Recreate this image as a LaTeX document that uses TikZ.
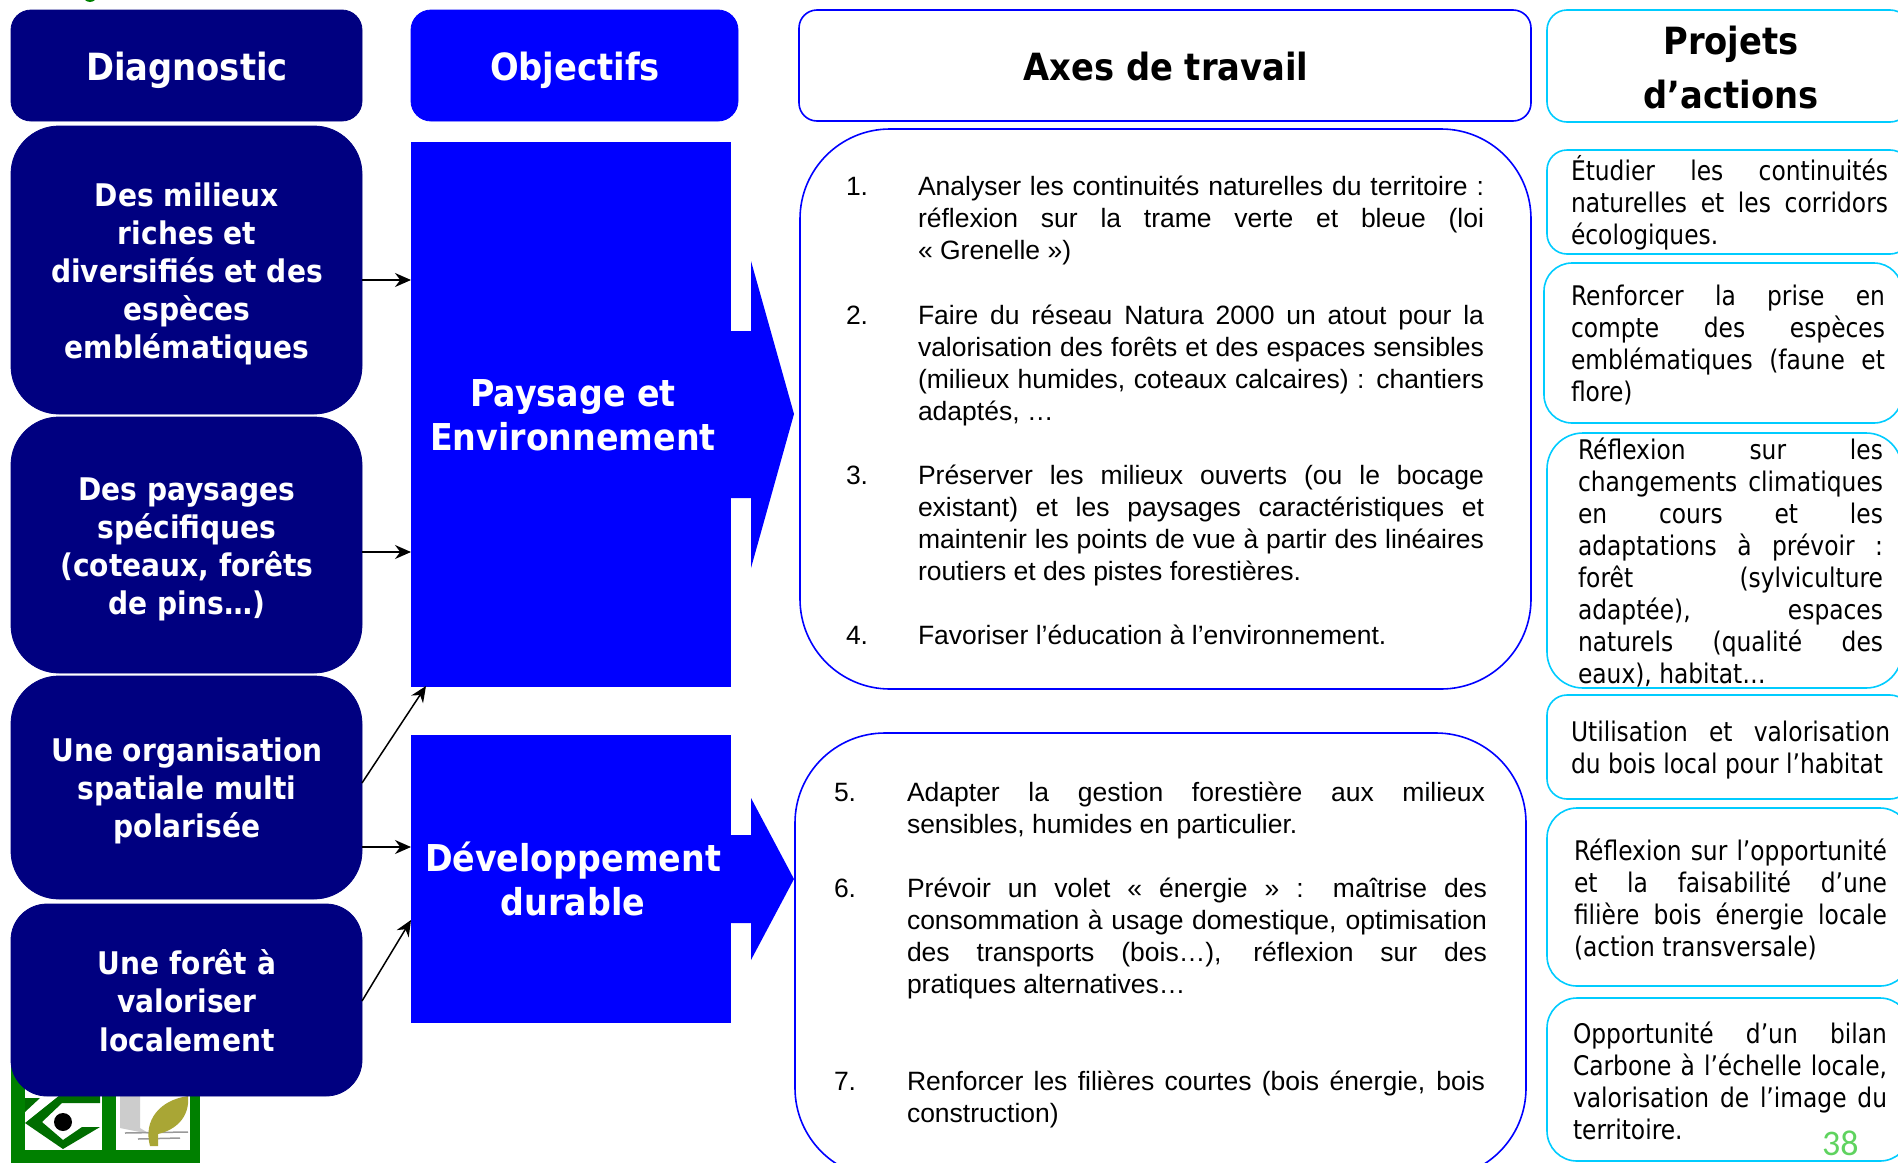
\documentclass[tikz,border=0pt]{standalone}
\usepackage{fontspec}
\usetikzlibrary{arrows.meta}
\setmainfont{Liberation Sans}
\newfontfamily\tah{DejaVu Sans}[FakeStretch=0.865]
\newfontfamily\tahb{DejaVu Sans Bold}[FakeStretch=0.90]
\newfontfamily\calib{Carlito}
\newcommand\Jl[1]{\hbox to\hsize{#1}}
\newcommand\Fl[1]{\hbox{#1}}
\newcommand\Cl[1]{\hbox to\hsize{\hss#1\hss}}
\newcommand\Vb[3]{\vtop{\hsize=#1pt \baselineskip=#2pt \lineskip=0pt \lineskiplimit=-100pt #3}}
\newcommand\Bx[6]{\node[#6,anchor=north west,inner sep=0pt,outer sep=0pt,minimum width={(#4-#2)*1pt},minimum height={(#5-#3)*1pt}] (#1) at (#2,#3) {};}
\definecolor{navyb}{HTML}{000080}
\definecolor{pureb}{HTML}{0000FF}
\definecolor{cyanb}{HTML}{00CCFF}
\definecolor{logog}{HTML}{008000}
\definecolor{leafc}{HTML}{A9A635}
\definecolor{pagenum}{HTML}{5FD35F}
\tikzset{
 navybox/.style={fill=navyb,draw=navyb,line width=0.8pt},
 bluebox/.style={fill=pureb,draw=pureb,line width=0.8pt},
 axisbox/.style={draw=pureb,line width=1.6pt,fill=white},
 projbox/.style={draw=cyanb,line width=1.6pt,fill=white},
 conn/.style={draw=black,line width=1.5pt,-{Stealth[length=16pt,width=14pt]}},
 tl/.style={inner sep=0pt,outer sep=0pt,anchor=base west},
 tc/.style={inner sep=0pt,outer sep=0pt,anchor=base},
 headw/.style={text=white,font=\tahb\fontsize{37.5}{44}\selectfont},
 headk/.style={text=black,font=\tahb\fontsize{37.5}{44}\selectfont},
 diagw/.style={text=white,font=\tahb\fontsize{31.2}{38}\selectfont},
 objw/.style={text=white,font=\tahb\fontsize{37}{44}\selectfont},
 axt/.style={text=black,font=\fontsize{26.5}{32}\selectfont},
 prt/.style={text=black,font=\tah\fontsize{27}{32}\selectfont},
}
\begin{document}
\begin{tikzpicture}[x=1pt,y=-1pt]
\useasboundingbox (0,0) rectangle (1898,1162);
\path[clip] (0,0) rectangle (1898,1162);
\fill[white] (0,0) rectangle (1898,1162);
% page decoration
\fill[logog] (90,-5) circle (7);
\fill[logog] (11,1060) rectangle (200,1170);
\fill[white] (25,1060) rectangle (102,1150);
\fill[white] (116,1060) rectangle (190,1150);
\fill[logog!85!black] (25,1123) -- (60,1095) -- (100,1095) -- (100,1103) -- (62,1103) -- (42,1122) -- (63,1140) -- (82,1127) -- (100,1127) -- (63,1149) -- cycle;
\fill[logog!85!black] (25,1098) -- (40,1098) -- (25,1112) -- cycle;
\fill[black] (63,1122) circle (9);
\fill[black!20] (120,1095) -- (140,1095) -- (140,1128) -- (150,1134) -- (120,1128) -- cycle;
\draw[black!40,line width=1.5pt] (125,1133) -- (188,1132);
\draw[black!40,line width=1.5pt] (138,1139) -- (180,1138);
\fill[leafc] (150,1146) .. controls (143,1120) and (160,1100) .. (188,1096) .. controls (190,1118) and (175,1130) .. (158,1134) -- (158,1146) -- cycle;
% header boxes
\Bx{hdiag}{11}{10}{362}{121}{navybox,rounded corners=20pt}
\Bx{hobj}{411}{10}{738}{121}{bluebox,rounded corners=20pt}
\Bx{haxe}{799}{10}{1531}{121}{axisbox,rounded corners=18pt}
\Bx{hproj}{1547}{10}{1910}{122}{projbox,rounded corners=20pt}
\node[tc,headw] (thdiag) at (187,80) {Diagnostic};
\node[tc,headw] (thobj) at (575,80) {Objectifs};
\node[tc,headk] (thaxe) at (1166,80) {Axes de travail};
\node[tc,headk] (thproj) at (1731,54) {\Vb{300}{54}{\Cl{Projets}\Cl{d’actions}}};
% diagnostic boxes
\Bx{d1}{11}{126}{362}{414}{navybox,rounded corners=48pt}
\Bx{d2}{11}{417}{362}{673}{navybox,rounded corners=48pt}
\Bx{d3}{11}{676}{362}{899}{navybox,rounded corners=48pt}
\Bx{d4}{11}{904}{362}{1096}{navybox,rounded corners=36pt}
\node[tc,diagw] (td1) at (187,206) {\Vb{340}{38.2}{\Cl{Des milieux}\Cl{riches et}\Cl{diversifiés et des}\Cl{espèces}\Cl{emblématiques}}};
\node[tc,diagw] (td2) at (187,500) {\Vb{340}{38.2}{\Cl{Des paysages}\Cl{spécifiques}\Cl{(coteaux, forêts}\Cl{de pins…)}}};
\node[tc,diagw] (td3) at (187,761) {\Vb{340}{38.4}{\Cl{Une organisation}\Cl{spatiale multi}\Cl{polarisée}}};
\node[tc,diagw] (td4) at (187,974) {\Vb{340}{38.5}{\Cl{Une forêt à}\Cl{valoriser}\Cl{localement}}};
% objectives
\Bx{r1}{411}{142}{730}{686}{bluebox}
\Bx{r2}{411}{735}{730}{1022}{bluebox}
\fill[pureb] (730,331) -- (751,331) -- (751,261) -- (794,414) -- (751,568) -- (751,498) -- (730,498) -- cycle;
\fill[pureb] (730,835) -- (751,835) -- (751,798) -- (794,879) -- (751,960) -- (751,923) -- (730,923) -- cycle;
\node[tc,objw] (tr1) at (573,406) {\Vb{320}{44}{\Cl{Paysage et}\Cl{Environnement}}};
\node[tc,objw] (tr2) at (573,871) {\Vb{320}{44}{\Cl{Développement}\Cl{durable}}};
% connectors
\draw[conn] (d1.east |- 0,280) -- (r1.west |- 0,280);
\draw[conn] (d2.east |- 0,552) -- (r1.west |- 0,552);
\draw[conn] (d3.east |- 0,783) -- (r1.south -| 426,0);
\draw[conn] (d3.east |- 0,847) -- (r2.west |- 0,847);
\draw[conn] (d4.east |- 0,1001) -- (r2.west |- 0,920);
% axes panels
\Bx{a1}{800}{129}{1531}{689}{axisbox,rounded corners=90pt}
\Bx{a2}{795}{733}{1526}{1178}{axisbox,rounded corners=90pt}
\node[tl,axt] (n1) at (846,195) {1.};
\node[tl,axt] (t1) at (918,195) {\Vb{566}{32}{\Jl{Analyser les continuités naturelles du territoire :}\Jl{réflexion sur la trame verte et bleue (loi}\Fl{«~Grenelle~»)}}};
\node[tl,axt] (n2) at (846,324) {2.};
\node[tl,axt] (t2) at (918,324) {\Vb{566}{32}{\Jl{Faire du réseau Natura 2000 un atout pour la}\Jl{valorisation des forêts et des espaces sensibles}\Jl{(milieux humides, coteaux calcaires) : chantiers}\Fl{adaptés, …}}};
\node[tl,axt] (n3) at (846,484) {3.};
\node[tl,axt] (t3) at (918,484) {\Vb{566}{32}{\Jl{Préserver les milieux ouverts (ou le bocage}\Jl{existant) et les paysages caractéristiques et}\Jl{maintenir les points de vue à partir des linéaires}\Fl{routiers et des pistes forestières.}}};
\node[tl,axt] (n4) at (846,644) {4.};
\node[tl,axt] (t4) at (918,644) {\Fl{Favoriser l’éducation à l’environnement.}};
\node[tl,axt] (n5) at (834,801) {5.};
\node[tl,axt] (t5) at (907,801) {\Vb{578}{32}{\Jl{Adapter la gestion forestière aux milieux}\Fl{sensibles, humides en particulier.}}};
\node[tl,axt] (n6) at (834,897) {6.};
\node[tl,axt] (t6) at (907,897) {\Vb{580}{32}{\Jl{Prévoir un volet «~énergie~» : maîtrise des}\Jl{consommation à usage domestique, optimisation}\Jl{des transports (bois…), réflexion sur des}\Fl{pratiques alternatives…}}};
\node[tl,axt] (n7) at (834,1090) {7.};
\node[tl,axt] (t7) at (907,1090) {\Vb{578}{32}{\Jl{Renforcer les filières courtes (bois énergie, bois}\Fl{construction)}}};
% project panels
\Bx{p1}{1547}{150}{1910}{254}{projbox,rounded corners=20pt}
\Bx{p2}{1544}{263}{1902}{423}{projbox,rounded corners=28pt}
\Bx{p3}{1547}{433}{1902}{688}{projbox,rounded corners=36pt}
\Bx{p4}{1547}{695}{1910}{799}{projbox,rounded corners=20pt}
\Bx{p5}{1547}{808}{1910}{986}{projbox,rounded corners=30pt}
\Bx{p6}{1547}{998}{1910}{1161}{projbox,rounded corners=30pt}
\node[tl,prt] (tp1) at (1571,180) {\Vb{317}{32}{\Jl{Étudier les continuités}\Jl{naturelles et les corridors}\Fl{écologiques.}}};
\node[tl,prt] (tp2) at (1571,305) {\Vb{314}{32}{\Jl{Renforcer la prise en}\Jl{compte des espèces}\Jl{emblématiques (faune et}\Fl{flore)}}};
\node[tl,prt] (tp3) at (1578,459) {\Vb{305}{32}{\Jl{Réflexion sur les}\Jl{changements climatiques}\Jl{en cours et les}\Jl{adaptations à prévoir :}\Jl{forêt (sylviculture}\Jl{adaptée), espaces}\Jl{naturels (qualité des}\Fl{eaux), habitat…}}};
\node[tl,prt] (tp4) at (1571,741) {\Vb{319}{32}{\Jl{Utilisation et valorisation}\Fl{du bois local pour l’habitat}}};
\node[tl,prt] (tp5) at (1574,860) {\Vb{313}{32}{\Jl{Réflexion sur l’opportunité}\Jl{et la faisabilité d’une}\Jl{filière bois énergie locale}\Fl{(action transversale)}}};
\node[tl,prt] (tp6) at (1573,1043) {\Vb{314}{32}{\Jl{Opportunité d’un bilan}\Jl{Carbone à l’échelle locale,}\Jl{valorisation de l’image du}\Fl{territoire.}}};
\node[tl,text=pagenum,font=\calib\fontsize{36}{36}\selectfont] (pnum) at (1822,1155) {38};
\end{tikzpicture}
\end{document}
